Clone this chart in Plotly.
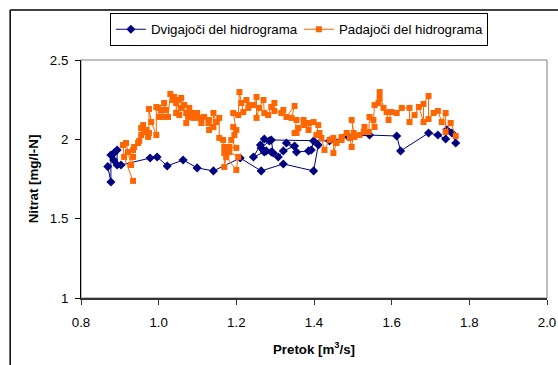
import plotly.graph_objects as go

# Rising limb of the hydrograph (flow m3/s, nitrate mg/l-N)
rise_q = [0.869, 0.877, 0.877, 0.884, 0.885, 0.893, 0.893, 0.903, 0.978, 0.996,
          1.022, 1.063, 1.099, 1.141, 1.210, 1.264, 1.321, 1.399, 1.411, 1.399,
          1.393, 1.386, 1.355, 1.329, 1.350, 1.321, 1.308, 1.290, 1.272, 1.244,
          1.262, 1.272, 1.285, 1.264, 1.277, 1.295, 1.290, 1.440, 1.489, 1.543,
          1.613, 1.623, 1.695, 1.719, 1.739, 1.742, 1.755, 1.765]
rise_n = [1.828, 1.731, 1.901, 1.870, 1.914, 1.933, 1.838, 1.838, 1.882, 1.889,
          1.832, 1.870, 1.820, 1.801, 1.882, 1.801, 1.845, 1.801, 1.964, 1.990,
          1.933, 1.927, 1.920, 1.977, 1.958, 1.927, 1.889, 1.920, 1.920, 1.889,
          1.964, 2.002, 1.990, 1.946, 1.927, 1.914, 1.996, 1.990, 2.015, 2.027,
          2.021, 1.927, 2.040, 2.027, 2.002, 2.060, 2.040, 1.977]

# Falling limb of the hydrograph
fall_q = [1.765, 1.752, 1.739, 1.739, 1.729, 1.719, 1.708, 1.695, 1.695, 1.682,
          1.682, 1.670, 1.659, 1.646, 1.646, 1.626, 1.613, 1.600, 1.592, 1.587,
          1.579, 1.569, 1.569, 1.566, 1.556, 1.553, 1.556, 1.543, 1.541, 1.530,
          1.528, 1.517, 1.504, 1.497, 1.502, 1.497, 1.492, 1.484, 1.471, 1.471,
          1.458, 1.450, 1.450, 1.440, 1.427, 1.419, 1.414, 1.406, 1.411, 1.399,
          1.386, 1.386, 1.375, 1.373, 1.360, 1.355, 1.350, 1.355, 1.342, 1.350,
          1.329, 1.321, 1.316, 1.298, 1.298, 1.290, 1.282, 1.272, 1.270, 1.259,
          1.252, 1.252, 1.244, 1.233, 1.226, 1.231, 1.218, 1.213, 1.208, 1.205,
          1.192, 1.200, 1.192, 1.195, 1.187, 1.200, 1.182, 1.182, 1.205, 1.200,
          1.174, 1.169, 1.169, 1.174, 1.169, 1.166, 1.156, 1.156, 1.148, 1.141,
          1.141, 1.130, 1.130, 1.128, 1.117, 1.110, 1.104, 1.099, 1.089, 1.084,
          1.079, 1.079, 1.071, 1.071, 1.066, 1.058, 1.058, 1.053, 1.050, 1.045,
          1.045, 1.040, 1.037, 1.030, 1.024, 1.019, 1.014, 1.012, 1.006, 1.001,
          0.999, 0.994, 0.994, 0.981, 0.975, 0.975, 0.973, 0.968, 0.963, 0.960,
          0.955, 0.955, 0.950, 0.947, 0.937, 0.934, 0.934, 0.929, 0.921, 0.916,
          0.908, 0.911, 0.934]
fall_n = [2.021, 2.103, 2.046, 2.166, 2.109, 2.179, 2.166, 2.128, 2.273, 2.223,
          2.109, 2.204, 2.153, 2.109, 2.198, 2.198, 2.166, 2.172, 2.122, 2.172,
          2.198, 2.298, 2.261, 2.229, 2.216, 2.122, 2.078, 2.141, 2.046, 2.078,
          2.046, 2.027, 2.015, 2.122, 2.040, 1.952, 2.009, 2.040, 2.015, 1.996,
          1.977, 1.914, 2.009, 1.996, 1.933, 2.009, 2.040, 2.027, 2.090, 2.109,
          2.059, 2.103, 2.090, 2.122, 2.071, 2.040, 2.040, 2.122, 2.135, 2.210,
          2.141, 2.185, 2.166, 2.179, 2.229, 2.204, 2.153, 2.166, 2.248, 2.198,
          2.135, 2.267, 2.216, 2.216, 2.248, 2.198, 2.172, 2.229, 2.298, 2.153,
          2.166, 2.059, 2.078, 2.027, 1.996, 1.946, 1.952, 1.920, 1.889, 1.807,
          1.889, 1.826, 1.914, 1.920, 1.952, 1.996, 2.009, 2.135, 2.109, 2.166,
          2.078, 2.059, 2.122, 2.103, 2.141, 2.103, 2.135, 2.166, 2.135, 2.166,
          2.141, 2.198, 2.166, 2.103, 2.216, 2.261, 2.198, 2.153, 2.248, 2.166,
          2.229, 2.267, 2.248, 2.286, 2.141, 2.185, 2.229, 2.141, 2.185, 2.141,
          2.198, 2.204, 2.027, 2.109, 2.191, 2.040, 2.015, 2.059, 2.046, 2.090,
          2.071, 2.027, 1.990, 1.977, 1.952, 1.933, 1.889, 1.838, 1.920, 1.977,
          1.964, 1.889, 1.738]

x_ticks = [0.8, 1.0, 1.2, 1.4, 1.6, 1.8, 2.0]
y_ticks = [1, 1.5, 2, 2.5]

BLUE = "#000080"
ORANGE = "#FF6600"
FONT = "Liberation Sans, Arial, sans-serif"
FS = 13.3

fig = go.Figure()
fig.add_trace(go.Scatter(
    x=rise_q, y=rise_n, mode="lines+markers", name="Dvigajoči del hidrograma",
    line=dict(color=BLUE, width=1),
    marker=dict(symbol="diamond", size=7, color=BLUE),
))
fig.add_trace(go.Scatter(
    x=fall_q, y=fall_n, mode="lines+markers", name="Padajoči del hidrograma",
    line=dict(color=ORANGE, width=1),
    marker=dict(symbol="square", size=6, color=ORANGE),
))

# gray plot-area border (axis lines drawn on top in black)
fig.add_shape(type="rect", xref="paper", yref="paper", x0=0, y0=0, x1=1, y1=1,
              line=dict(color="#808080", width=1), layer="below")
# outer chart frame (left and top edges)
fig.add_shape(type="line", xref="paper", yref="paper", x0=-0.152, x1=-0.152,
              y0=-0.4, y1=1.21, line=dict(color="black", width=1.5))
fig.add_shape(type="line", xref="paper", yref="paper", x0=-0.152, x1=1.2,
              y0=1.21, y1=1.21, line=dict(color="black", width=1.5))

fig.update_layout(
    width=558, height=365,
    margin=dict(l=81, r=11, t=60, b=67),
    paper_bgcolor="white", plot_bgcolor="white",
    font=dict(family=FONT, size=FS, color="black"),
    showlegend=True,
    legend=dict(
        orientation="h", x=0.062, y=1.197, xanchor="left", yanchor="top",
        bordercolor="black", borderwidth=1, bgcolor="white",
        font=dict(family=FONT, size=FS), itemwidth=30,
        entrywidth=143, entrywidthmode="pixels",
        tracegroupgap=0,
    ),
    xaxis=dict(
        range=[0.8, 2.0], tickvals=x_ticks, ticktext=[f"{v:.1f}" for v in x_ticks],
        showgrid=False, zeroline=False, showline=True, linecolor="#333333", linewidth=1.5,
        ticks="outside", ticklen=5, tickcolor="#333333",
        tickfont=dict(size=FS), ticklabelstandoff=6, automargin=False,
        title=dict(text="<b>Pretok [m<sup>3</sup>/s]</b>", font=dict(size=FS), standoff=16),
    ),
    yaxis=dict(
        range=[1, 2.5], tickvals=y_ticks, ticktext=["1", "1.5", "2", "2.5"],
        showgrid=False, zeroline=False, showline=True, linecolor="black",
        ticks="outside", ticklen=5, tickcolor="black",
        tickfont=dict(size=FS), ticklabelstandoff=4, automargin=False,
        title=dict(text="<b>Nitrat [mg/l-N]</b>", font=dict(size=FS), standoff=8),
    ),
)

fig.write_html("out.html")
